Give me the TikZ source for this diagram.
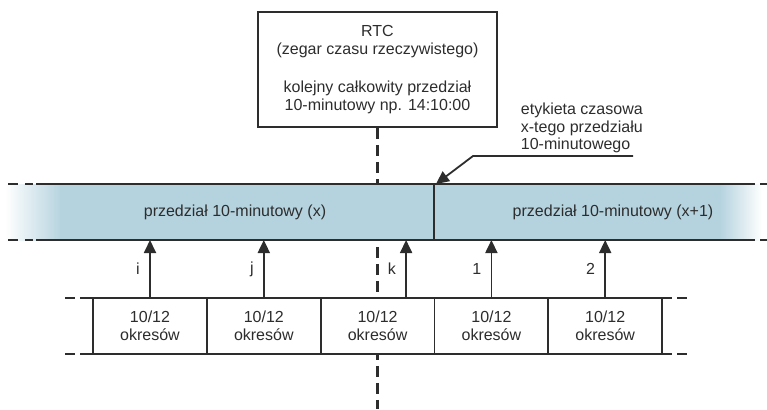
\documentclass[tikz,border=0pt]{standalone}
\usepackage{fontspec}
\setmainfont{Liberation Sans}
\usetikzlibrary{arrows.meta,positioning}
\definecolor{bandblue}{RGB}{181,211,223}
\definecolor{ink}{RGB}{45,45,45}
\tikzset{
 tip/.style={-{Triangle[length=13pt,width=12pt]}},
 okres/.style={draw,fill=white,minimum width=113.8pt,minimum height=56pt,outer sep=0pt,inner sep=0pt,align=center},
 kreska/.style={dash pattern=on 11pt off 6pt},
}
\begin{document}
\begin{tikzpicture}[x=1pt,y=-1pt,line width=1.8pt,color=ink,font=\fontsize{16}{18}\selectfont]
 \useasboundingbox (0,0) rectangle (767,409);
 % zegar RTC i linia odniesienia
 \node[draw,minimum width=239pt,minimum height=115pt,align=center] (rtc) at (377.5,69.5)
   {RTC\\(zegar czasu rzeczywistego)\\[20pt]kolejny całkowity przedział\\10-minutowy np. 14:10:00};
 \draw[kreska,line width=2.2pt] (rtc.south) -- (rtc.south |- 0,409);
 % pas przedzialow 10-minutowych
 \shade[left color=white,right color=bandblue] (5,184) rectangle (62,240);
 \fill[bandblue] (60,184) rectangle (722,240);
 \shade[left color=bandblue,right color=white] (720,184) rectangle (762,240);
 \foreach \y in {184,240} {
  \draw[line width=2.2pt] (36,\y) -- (755,\y);
  \draw[line width=2.2pt] (8,\y) -- (18,\y) (25,\y) -- (33,\y) (760,\y) -- (767,\y);
 }
 \draw (434,184) coordinate (divtop) -- (434,240);
 \coordinate (bandbot) at (0,240);
 \node (intx) at (235,212) {przedział 10-minutowy (x)};
 \node (intx1) at (613,212) {przedział 10-minutowy (x+1)};
 % okresy
 \node[okres] (p1) at (150,326) {10/12\\okresów};
 \foreach \i [count=\j] in {2,...,5}
  \node[okres,right=0pt of p\j] (p\i) {10/12\\okresów};
 \foreach \y in {298,354}
  \draw (65,\y) -- (75,\y) (80,\y) -- (93,\y) (662,\y) -- (672,\y) (677,\y) -- (687,\y);
 \foreach \p/\l in {p1/i,p2/j,p4/1,p5/2}
  \draw[tip] (\p.north) -- node[left=6pt] (l\l) {\l} (\p.north |- bandbot);
 \draw[tip] ([xshift=28.5pt]p3.north) -- node[left=6pt] (lk) {k} ([xshift=28.5pt]p3.north |- bandbot);
 % etykieta czasowa
 \node[anchor=west,align=left,inner sep=0pt,font=\fontsize{16}{17.5}\selectfont] (etykieta) at (520,128)
   {etykieta czasowa\\x-tego przedziału\\10-minutowego};
 \coordinate (ulend) at (633,156);
 \coordinate (ulbend) at (473,156);
 \draw[tip] (ulend) -- (ulbend) -- ([xshift=2pt]divtop);
\end{tikzpicture}
\end{document}
